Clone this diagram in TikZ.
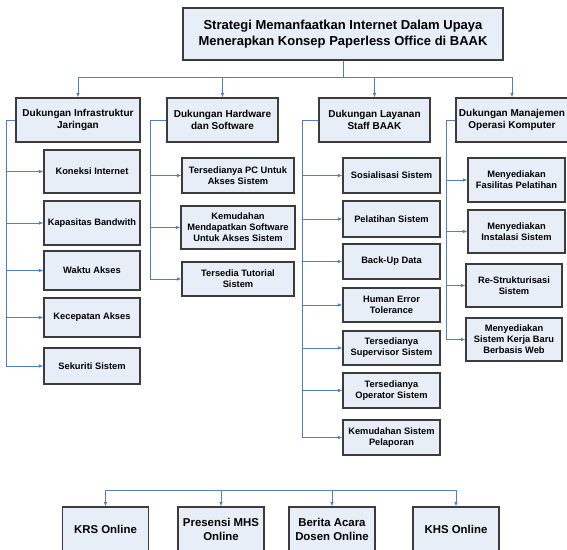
\documentclass[tikz,border=0pt]{standalone}
\usepackage{fontspec}
\setmainfont{Liberation Sans}
\usetikzlibrary{arrows.meta}
\definecolor{boxfill}{RGB}{232,238,247}
\definecolor{boxline}{RGB}{60,60,60}
\definecolor{linkblue}{RGB}{79,129,189}

\tikzset{
  box/.style={draw=boxline, fill=boxfill, line width=1.1pt, align=center, inner sep=1pt},
  head/.style={box, font=\bfseries\fontsize{13}{16.5}\selectfont},
  group/.style={box, font=\bfseries\fontsize{10}{12}\selectfont, minimum height=44pt},
  item/.style={box, font=\bfseries\fontsize{9.3}{11}\selectfont},
  app/.style={box, font=\bfseries\fontsize{11.4}{14}\selectfont, minimum width=86pt, minimum height=44pt},
  link/.style={draw=linkblue, line width=0.9pt},
  feed/.style={link, -{Latex[length=4.5pt,width=3.6pt]}}
}

\begin{document}
\begin{tikzpicture}[x=1pt,y=-1pt]
    \useasboundingbox (0,0) rectangle (567,549);

    \node[head, minimum width=320pt, minimum height=52pt] (top) at (343,34) {Strategi Memanfaatkan Internet Dalam Upaya\\Menerapkan Konsep Paperless Office di BAAK};

    \node[group, minimum width=124pt] (infra) at (78,120)    {Dukungan Infrastruktur\\Jaringan};
    \node[group, minimum width=111pt] (hw)    at (222.5,120) {Dukungan Hardware\\dan Software};
    \node[group, minimum width=111pt] (staff) at (374.5,120) {Dukungan Layanan\\Staff BAAK};
    \node[group, minimum width=112pt] (mgmt)  at (512,120)   {Dukungan Manajemen\\Operasi Komputer};

    \node[item, minimum width=96pt, minimum height=43pt] (koneksi)   at (92,171.5) {Koneksi Internet};
    \node[item, minimum width=96pt, minimum height=44pt] (bandwith)  at (92,223)   {Kapasitas Bandwith};
    \node[item, minimum width=96pt, minimum height=39pt] (waktu)     at (92,270.5) {Waktu Akses};
    \node[item, minimum width=96pt, minimum height=39pt] (kecepatan) at (92,317.5) {Kecepatan Akses};
    \node[item, minimum width=96pt, minimum height=36pt] (sekuriti)  at (92,366)   {Sekuriti Sistem};

    \node[item, minimum width=112pt, minimum height=35pt] (pc)       at (238,175.5) {Tersedianya PC Untuk\\Akses Sistem};
    \node[item, minimum width=114pt, minimum height=43pt] (software) at (238,227.5) {Kemudahan\\Mendapatkan Software\\Untuk Akses Sistem};
    \node[item, minimum width=112pt, minimum height=34pt] (tutorial) at (238,279)   {Tersedia Tutorial\\Sistem};

    \node[item, minimum width=97pt, minimum height=35pt] (sosialisasi) at (391.5,175.5) {Sosialisasi Sistem};
    \node[item, minimum width=97pt, minimum height=36pt] (pelatihan)   at (391.5,219)   {Pelatihan Sistem};
    \node[item, minimum width=97pt, minimum height=35pt] (backup)      at (391.5,261.5) {Back-Up Data};
    \node[item, minimum width=97pt, minimum height=34pt] (error)       at (391.5,305)   {Human Error\\Tolerance};
    \node[item, minimum width=97pt, minimum height=34pt] (supervisor)  at (391.5,348)   {Tersedianya\\Supervisor Sistem};
    \node[item, minimum width=97pt, minimum height=35pt] (operator)    at (391.5,390.5) {Tersedianya\\Operator Sistem};
    \node[item, minimum width=97pt, minimum height=35pt] (laporan)     at (391.5,437.5) {Kemudahan Sistem\\Pelaporan};

    \node[item, minimum width=97pt, minimum height=44pt] (fasilitas)  at (516.5,180) {Menyediakan\\Fasilitas Pelatihan};
    \node[item, minimum width=97pt, minimum height=43pt] (instalasi)  at (516.5,231.5) {Menyediakan\\Instalasi Sistem};
    \node[item, minimum width=96pt, minimum height=43pt] (restruktur) at (514,285.5) {Re-Strukturisasi\\Sistem};
    \node[item, minimum width=96pt, minimum height=43pt] (kerja)      at (514,339.5) {Menyediakan\\Sistem Kerja Baru\\Berbasis Web};

    \node[app] (krs)      at (105.5,529) {KRS Online};
    \node[app] (presensi) at (221,529)   {Presensi MHS\\Online};
    \node[app] (berita)   at (332,529)   {Berita Acara\\Dosen Online};
    \node[app] (khs)      at (456,529)   {KHS Online};

    \coordinate (split) at (343,77);
    \draw[link] (top) -- (split);
    \draw[link] (split -| infra) -- (split -| mgmt);
    \draw[feed] (split -| infra) -- (infra);
    \draw[feed] (split -| hw) -- (hw);
    \draw[feed] (split -| staff) -- (staff);
    \draw[feed] (split -| mgmt) -- (mgmt);

    \draw[feed] (infra.west) -- ++(-9,0) |- (koneksi);
    \draw[feed] (infra.west) -- ++(-9,0) |- (bandwith);
    \draw[feed] (infra.west) -- ++(-9,0) |- (waktu);
    \draw[feed] (infra.west) -- ++(-9,0) |- (kecepatan);
    \draw[feed] (infra.west) -- ++(-9,0) |- (sekuriti);

    \draw[feed] (hw.west) -- ++(-16,0) |- (pc);
    \draw[feed] (hw.west) -- ++(-16,0) |- (software);
    \draw[feed] (hw.west) -- ++(-16,0) |- (tutorial);

    \draw[feed] (staff.west) -- ++(-16,0) |- (sosialisasi);
    \draw[feed] (staff.west) -- ++(-16,0) |- (pelatihan);
    \draw[feed] (staff.west) -- ++(-16,0) |- (backup);
    \draw[feed] (staff.west) -- ++(-16,0) |- (error);
    \draw[feed] (staff.west) -- ++(-16,0) |- (supervisor);
    \draw[feed] (staff.west) -- ++(-16,0) |- (operator);
    \draw[feed] (staff.west) -- ++(-16,0) |- (laporan);

    \draw[feed] (mgmt.west) -- ++(-9,0) |- (fasilitas);
    \draw[feed] (mgmt.west) -- ++(-9,0) |- (instalasi);
    \draw[feed] (mgmt.west) -- ++(-9,0) |- (restruktur);
    \draw[feed] (mgmt.west) -- ++(-9,0) |- (kerja);

    \coordinate (rail) at (280,490);
    \draw[link] (rail -| krs) -- (rail -| khs);
    \draw[feed] (rail -| krs) -- (krs);
    \draw[feed] (rail -| presensi) -- (presensi);
    \draw[feed] (rail -| berita) -- (berita);
    \draw[feed] (rail -| khs) -- (khs);
\end{tikzpicture}
\end{document}
